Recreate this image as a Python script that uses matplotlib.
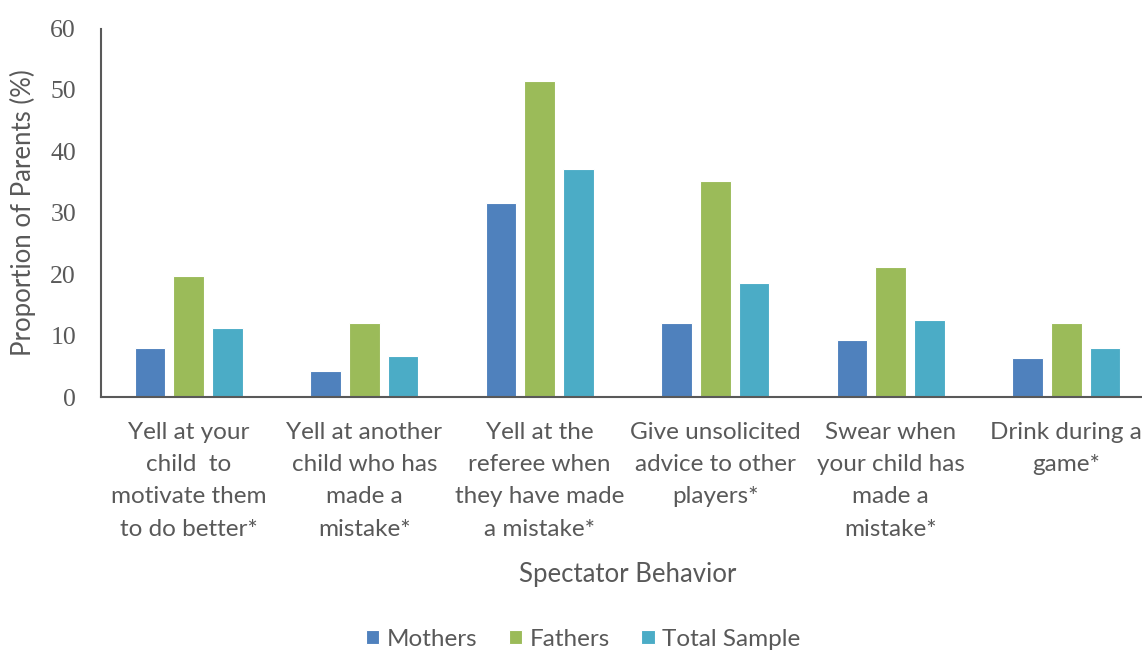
import numpy as np
import matplotlib
matplotlib.use('Agg')
import matplotlib.pyplot as plt
from matplotlib import font_manager

# spectator behaviours reported by parents (%)
categories = [
    "Yell at your\nchild  to\nmotivate them\nto do better*",
    "Yell at another\nchild who has\nmade a\nmistake*",
    "Yell at the\nreferee when\nthey have made\na mistake*",
    "Give unsolicited\nadvice to other\nplayers*",
    "Swear when\nyour child has\nmade a\nmistake*",
    "Drink during a\ngame*",
]
mothers = [8.0, 4.2, 31.6, 12.1, 9.3, 6.3]
fathers = [19.7, 12.1, 51.5, 35.2, 21.2, 12.1]
total_sample = [11.3, 6.6, 37.2, 18.6, 12.6, 7.9]

series_names = ["Mothers", "Fathers", "Total Sample"]
colors = ["#4F81BD", "#9BBB59", "#4BACC6"]
text_color = "#595959"

names = {f.name for f in font_manager.fontManager.ttflist}
sans = "Liberation Sans Narrow" if "Liberation Sans Narrow" in names else "Lato"
serif = "Liberation Serif"

fig = plt.figure(figsize=(11.42, 6.54), dpi=100)
W, H = 1142, 654
left, right, top, bottom = 101, 1154, 28.5, 397
ax = fig.add_axes([left / W, 1 - bottom / H, (right - left) / W, (bottom - top) / H])

x = np.arange(len(categories))
width = 0.174
pitch = 0.22
for i, (vals, name, c) in enumerate(zip([mothers, fathers, total_sample], series_names, colors)):
    ax.bar(x + (i - 1) * pitch, vals, width, color=c, edgecolor="white",
           linewidth=0.8, label=name)

ax.set_xlim(-0.5, len(categories) - 0.5)
ax.set_ylim(0, 60)
ax.set_yticks(range(0, 61, 10))
ax.set_xticks(x)
ax.set_xticklabels(categories, fontsize=17.5, family=sans, color=text_color,
                   linespacing=1.66)
for lab in ax.get_yticklabels():
    lab.set_family(serif)
    lab.set_fontsize(18.5)
    lab.set_color(text_color)
ax.tick_params(axis="y", length=0, pad=18)
ax.tick_params(axis="x", length=0, pad=18)

for s in ["top", "right"]:
    ax.spines[s].set_visible(False)
for s in ["left", "bottom"]:
    ax.spines[s].set_color("#595959")
    ax.spines[s].set_linewidth(1.5)

ax.set_ylabel("Proportion of Parents (%)", fontsize=18.5, family=sans,
              color=text_color, labelpad=10)
ax.set_xlabel("Spectator Behavior", fontsize=18.5, family=sans,
              color=text_color, labelpad=16)

fig.legend(loc="center", bbox_to_anchor=(583 / W, 1 - 639 / H), ncol=3,
           frameon=False, handlelength=0.55, handleheight=0.55,
           handletextpad=0.3, columnspacing=1.3, borderpad=0.1,
           prop={"family": sans, "size": 17.5}, labelcolor=text_color)

fig.savefig("out.png", dpi=100)
